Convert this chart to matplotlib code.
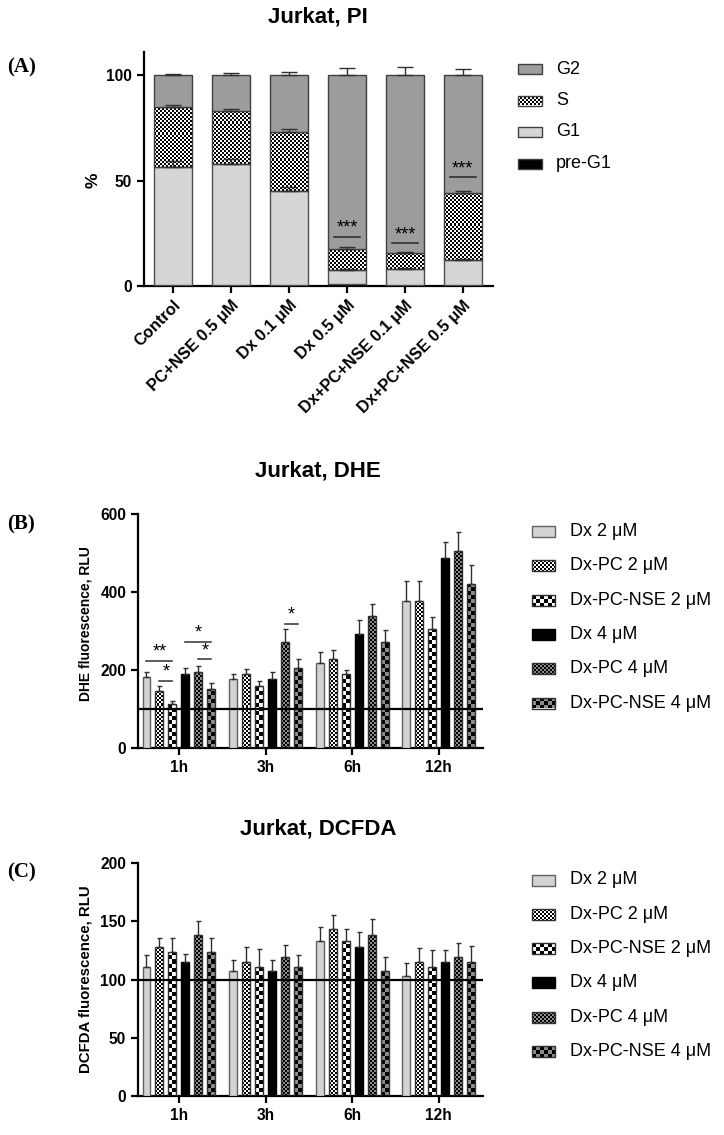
import matplotlib
matplotlib.use('Agg')
from matplotlib import pyplot as plt
from matplotlib.colors import ListedColormap
from matplotlib.patches import Rectangle
import numpy as np

plt.rcParams['font.family'] = ['Liberation Sans', 'DejaVu Sans']

# ---- panel A data (cell cycle, % of cells) ----
cycle_groups = ['Control', 'PC+NSE 0.5 μM', 'Dx 0.1 μM', 'Dx 0.5 μM',
                'Dx+PC+NSE 0.1 μM', 'Dx+PC+NSE 0.5 μM']
pre_g1 = [0.3, 0.4, 0.3, 0.8, 0.5, 0.4]
g1 = [56.2, 57.3, 44.7, 6.8, 7.5, 11.8]
s_phase = [28.5, 25.3, 28.0, 9.9, 7.8, 31.8]
g1_err = [2.8, 2.6, 2.0, 0.5, 0.4, 0.4]
s_err = [1.0, 1.0, 1.6, 1.0, 0.5, 1.0]
g2_err = [0.5, 1.0, 1.4, 3.3, 3.8, 2.8]
sig_A = [(3, 23.4, '***'), (4, 20.4, '***'), (5, 51.6, '***')]

# ---- panels B/C data ----
times = ['1h', '3h', '6h', '12h']
series = ['Dx 2 μM', 'Dx-PC 2 μM', 'Dx-PC-NSE 2 μM',
          'Dx 4 μM', 'Dx-PC 4 μM', 'Dx-PC-NSE 4 μM']
dhe = [
    [183, 176, 219, 378],
    [147, 190, 228, 378],
    [112, 159, 190, 305],
    [190, 176, 293, 487],
    [196, 273, 339, 506],
    [152, 204, 273, 421],
]
dhe_err = [
    [13, 14, 26, 49],
    [13, 13, 23, 51],
    [9, 13, 10, 30],
    [16, 20, 34, 42],
    [15, 32, 30, 47],
    [15, 24, 29, 49],
]
sig_B = [(0, 0, 2, 224, '**'), (0, 1, 2, 172, '*'), (0, 3, 5, 272, '*'),
         (0, 4, 5, 227, '*'), (1, 4, 5, 318, '*')]
dcfda = [
    [111, 107, 133, 103],
    [128, 115, 143, 115],
    [124, 111, 133, 111],
    [115, 107, 128, 115],
    [138, 119, 138, 119],
    [124, 111, 107, 115],
]
dcfda_err = [
    [10, 10, 12, 11],
    [8, 13, 12, 12],
    [12, 15, 10, 14],
    [7, 10, 13, 10],
    [12, 11, 14, 12],
    [12, 10, 12, 14],
]

W, H = 724, 1135
fig = plt.figure(figsize=(W / 100, H / 100), dpi=100)

def box(left, top, right, bottom):
    return [left / W, 1 - bottom / H, (right - left) / W, (bottom - top) / H]

def checker_fill(ax, patch, cell, c1, c2, z=2):
    x0, y0 = patch.get_x(), patch.get_y()
    w, h = patch.get_width(), patch.get_height()
    if h == 0:
        return
    (px0, py0), (px1, py1) = ax.transData.transform([(x0, y0), (x0 + w, y0 + h)])
    wpx, hpx = abs(px1 - px0), abs(py1 - py0)
    nx = max(1, int(np.ceil(wpx / cell)))
    ny = max(1, int(np.ceil(hpx / cell)))
    dx = w / wpx * cell
    dy = h / hpx * cell
    ii, jj = np.indices((ny, nx))
    im = ax.imshow((ii + jj) % 2, cmap=ListedColormap([c1, c2]), vmin=0, vmax=1,
                   extent=(x0, x0 + nx * dx, y0, y0 + ny * dy), origin='lower',
                   aspect='auto', interpolation='nearest', zorder=z)
    im.set_clip_path(patch)

def style_axis(ax):
    for s in ['top', 'right']:
        ax.spines[s].set_visible(False)
    for s in ['left', 'bottom']:
        ax.spines[s].set_linewidth(1.6)
    ax.tick_params(width=1.6, length=5, labelsize=11.2)
    for lab in ax.get_yticklabels() + ax.get_xticklabels():
        lab.set_fontweight('bold')

# styles: (face, edge, checker spec or None)
styles = [
    ('#d3d3d3', '#606060', None),
    ('none', '#303030', (2, 'black', 'white')),
    ('none', '#303030', (4, 'black', 'white')),
    ('black', 'black', None),
    ('none', '#303030', (2, 'black', '#8c8c8c')),
    ('none', '#303030', (4, 'black', '#8c8c8c')),
]

# ================= Panel A =================
axA = fig.add_axes(box(144, 52, 493, 286))
axA.set_xlim(-0.5, 5.52)
axA.set_ylim(0, 111)
xA = np.arange(len(cycle_groups))
pre = np.array(pre_g1)
top_g1 = pre + np.array(g1)
top_s = top_g1 + np.array(s_phase)
g2 = 100 - top_s
bw = 0.655
axA.bar(xA, pre, bw, color='black', edgecolor='black', lw=0.8, zorder=3)
axA.bar(xA, g1, bw, bottom=pre, color='#d5d5d5', edgecolor='#505050', lw=1, zorder=3)
s_bars = axA.bar(xA, s_phase, bw, bottom=top_g1, facecolor='none', edgecolor='#404040', lw=1, zorder=3)
for p in s_bars:
    checker_fill(axA, p, 2, 'black', 'white')
axA.bar(xA, g2, bw, bottom=top_s, color='#9c9c9c', edgecolor='#404040', lw=1, zorder=3)
for tops, err in [(top_g1, g1_err), (top_s, s_err), (top_s + g2, g2_err)]:
    axA.errorbar(xA, tops, yerr=[np.zeros(len(err)), err], fmt='none',
                 ecolor='#303030', elinewidth=1, capsize=6, capthick=1, zorder=4)
for i, y, lab in sig_A:
    axA.plot([i - 0.22, i + 0.22], [y, y], color='#303030', lw=1.2, zorder=5)
    axA.annotate(lab, (i, y), xytext=(0, 0), textcoords='offset points',
                 ha='center', va='bottom', fontsize=13, zorder=5)
axA.set_yticks([0, 50, 100])
axA.set_xticks(xA)
axA.set_xticklabels(cycle_groups, rotation=45, ha='right', rotation_mode='anchor',
                    fontsize=11.8)
style_axis(axA)
for lab in axA.get_xticklabels():
    lab.set_fontsize(11.8)
axA.spines['left'].set_bounds(0, 111)
fig.text(318 / W, 1 - 17 / H, 'Jurkat, PI', ha='center', va='center',
         fontsize=16, fontweight='bold')
fig.text(93 / W, 1 - 180 / H, '%', ha='center', va='center', rotation=90,
         fontsize=12.5, fontweight='bold')

# ================= Panels B, C =================
offsets = (np.arange(6) - 2.5) * 0.15
barw = 0.092

def grouped(ax, values, errs, ymax, yticks, sigs):
    ax.set_xlim(-0.473, 3.51)
    ax.set_ylim(0, ymax)
    xg = np.arange(len(times))
    for k in range(len(series)):
        face, edge, chk = styles[k]
        bars = ax.bar(xg + offsets[k], values[k], barw, facecolor=face,
                      edgecolor=edge, lw=1, zorder=3)
        if chk is not None:
            for p in bars:
                checker_fill(ax, p, *chk)
        ax.errorbar(xg + offsets[k], values[k],
                    yerr=[np.zeros(len(times)), errs[k]], fmt='none',
                    ecolor='#303030', elinewidth=1, capsize=1.8, capthick=1, zorder=4)
    ax.axhline(100, color='black', lw=1.6, zorder=5)
    for g, i, j, y, lab in sigs:
        ax.plot([g + offsets[i], g + offsets[j]], [y, y], color='#303030', lw=1.1, zorder=5)
        ax.annotate(lab, ((g + offsets[i] + g + offsets[j]) / 2, y), xytext=(0, 0),
                    textcoords='offset points', ha='center', va='bottom',
                    fontsize=13, zorder=5)
    ax.set_yticks(yticks)
    ax.set_xticks(xg)
    ax.set_xticklabels(times)
    style_axis(ax)

axB = fig.add_axes(box(138, 514, 483, 748))
grouped(axB, dhe, dhe_err, 600, [0, 200, 400, 600], sig_B)
fig.text(318 / W, 1 - 471 / H, 'Jurkat, DHE', ha='center', va='center',
         fontsize=16, fontweight='bold')
fig.text(85 / W, 1 - 624 / H, 'DHE fluorescence, RLU', ha='center', va='center',
         rotation=90, fontsize=10, fontweight='bold')

axC = fig.add_axes(box(138, 863, 483, 1096))
grouped(axC, dcfda, dcfda_err, 200, [0, 50, 100, 150, 200], [])
fig.text(318 / W, 1 - 829 / H, 'Jurkat, DCFDA', ha='center', va='center',
         fontsize=16, fontweight='bold')
fig.text(85 / W, 1 - 979 / H, 'DCFDA fluorescence, RLU', ha='center', va='center',
         rotation=90, fontsize=10.8, fontweight='bold')

# panel letters
for lab, y in [('(A)', 67), ('(B)', 524), ('(C)', 872)]:
    fig.text(7 / W, 1 - y / H, lab, ha='left', va='center', fontsize=15,
             fontweight='bold', family=['Liberation Serif', 'DejaVu Serif'])

# ================= legends (overlay in pixel coords) =================
axL = fig.add_axes([0, 0, 1, 1], zorder=-1)
axL.set_xlim(0, W)
axL.set_ylim(H, 0)
axL.axis('off')

legA = [('G2', '#9c9c9c', None), ('S', 'none', (2, 'black', 'white')),
        ('G1', '#d5d5d5', None), ('pre-G1', 'black', None)]
for n, (lab, face, chk) in enumerate(legA):
    yc = 69 + n * 31.5
    r = Rectangle((518, yc - 5), 24, 10, facecolor=face, edgecolor='#404040', lw=1, zorder=3)
    axL.add_patch(r)
    if chk is not None:
        checker_fill(axL, r, *chk)
    axL.text(556, yc, lab, ha='left', va='center', fontsize=13)

for y0 in [531.5, 880]:
    for n, lab in enumerate(series):
        face, edge, chk = styles[n]
        yc = y0 + n * 34.3
        r = Rectangle((532, yc - 5.5), 23, 11, facecolor=face, edgecolor=edge, lw=1, zorder=3)
        axL.add_patch(r)
        if chk is not None:
            checker_fill(axL, r, *chk)
        axL.text(570, yc, lab, ha='left', va='center', fontsize=13)

fig.savefig('out.png', dpi=100)
